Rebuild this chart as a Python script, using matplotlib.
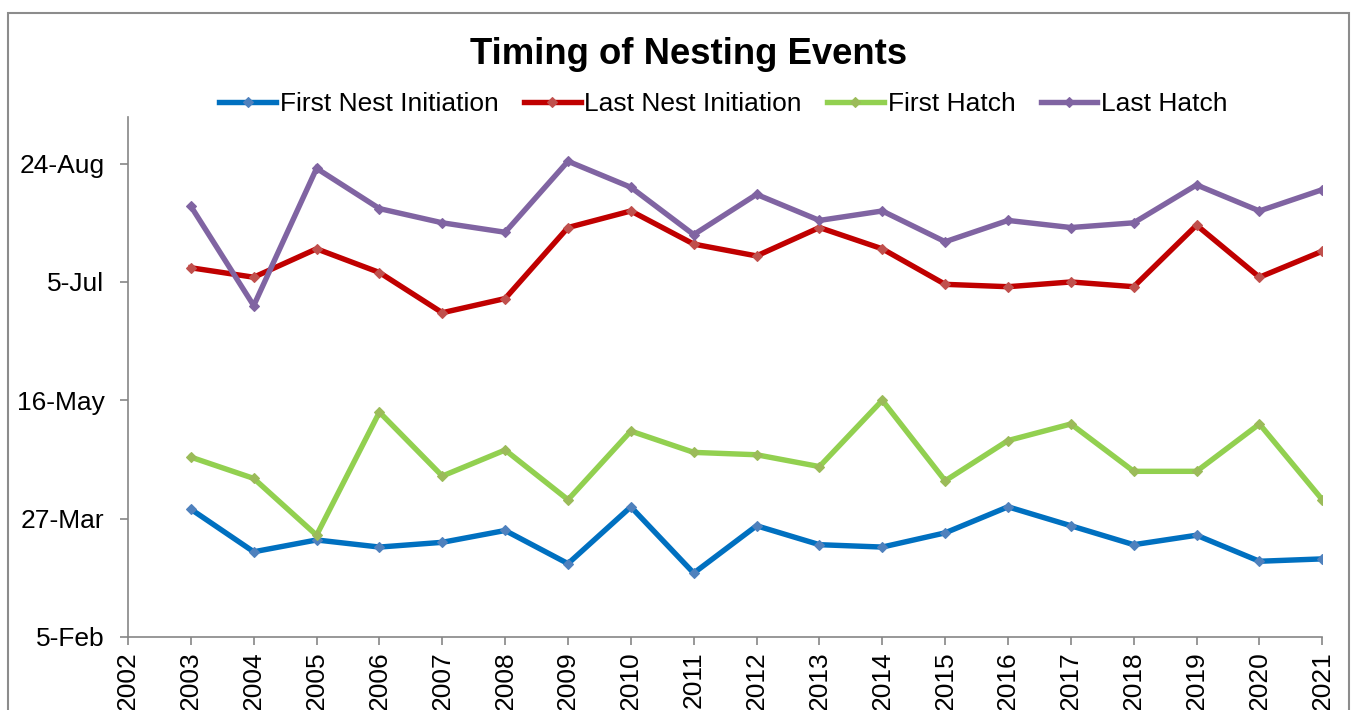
import matplotlib
matplotlib.use("Agg")
import matplotlib.pyplot as plt
from matplotlib.patches import Rectangle

plt.rcParams['font.family'] = ['Liberation Sans', 'DejaVu Sans']

years = list(range(2003, 2022))
# values are day-of-year (non-leap year)
first_nest = [90, 72, 77, 74, 76, 81, 67, 91, 63, 83, 75, 74, 80, 91, 83, 75, 79, 68, 69]
last_nest = [192, 188, 200, 190, 173, 179, 209, 216, 202, 197, 209, 200, 185, 184, 186, 184, 210, 188, 199]
first_hatch = [112, 103, 79, 131, 104, 115, 94, 123, 114, 113, 108, 136, 102, 119, 126, 106, 106, 126, 94]
last_hatch = [218, 176, 234, 217, 211, 207, 237, 226, 206, 223, 212, 216, 203, 212, 209, 211, 227, 216, 225]

series_names = ["First Nest Initiation", "Last Nest Initiation", "First Hatch", "Last Hatch"]
ytick_days = [36, 86, 136, 186, 236]
ytick_labels = ["5-Feb", "27-Mar", "16-May", "5-Jul", "24-Aug"]
xtick_years = list(range(2002, 2022))
title = "Timing of Nesting Events"

line_colors = ["#0070C0", "#C00000", "#92D050", "#8064A2"]
marker_colors = ["#4F81BD", "#C0504D", "#9BBB59", "#8064A2"]

W, H = 1354, 710
fig = plt.figure(figsize=(W / 100, H / 100), dpi=100)
ax = fig.add_axes([128 / W, 1 - 637 / H, (1322.3 - 128) / W, (637 - 117) / H])

all_series = [first_nest, last_nest, first_hatch, last_hatch]
for vals, name, lc, mc in zip(all_series, series_names, line_colors, marker_colors):
    ax.plot(years, vals, color=lc, lw=3.9, marker='D', ms=5.5,
            markerfacecolor=mc, markeredgecolor=mc, markeredgewidth=0.8,
            label=name, solid_joinstyle='miter', zorder=3)

ax.set_xlim(2002, 2021)
ax.set_ylim(36, 255.7)
ax.set_yticks(ytick_days)
ax.set_yticklabels(ytick_labels)
ax.set_xticks(xtick_years)
ax.set_xticklabels([str(y) for y in xtick_years], rotation=90, va='top', ha='center')

for s in ['top', 'right']:
    ax.spines[s].set_visible(False)
for s in ['left', 'bottom']:
    ax.spines[s].set_color('#868686')
    ax.spines[s].set_linewidth(1.2)
ax.tick_params(axis='both', direction='out', length=6, width=1.2, color='#868686',
               labelsize=19, labelcolor='black', pad=4)
ax.tick_params(axis='y', pad=11)

fig.text(689 / W, 1 - 54 / H, title, ha='center', va='center', fontsize=26.3, fontweight='bold')

leg = fig.legend(loc='center', bbox_to_anchor=(723.5 / W, 1 - 104 / H), ncol=4, frameon=False,
                 fontsize=19, handlelength=2.15, handletextpad=0.15, columnspacing=0.95,
                 borderpad=0, borderaxespad=0)
for h in leg.legend_handles:
    h.set_markersize(5.5)

fig.patches.append(Rectangle((8 / W, -0.1), (1349 - 8) / W, 1.1 - 13 / H,
                             transform=fig.transFigure, fill=False, edgecolor='#8c8c8c',
                             linewidth=1.5))

fig.savefig("out.png", dpi=100)
